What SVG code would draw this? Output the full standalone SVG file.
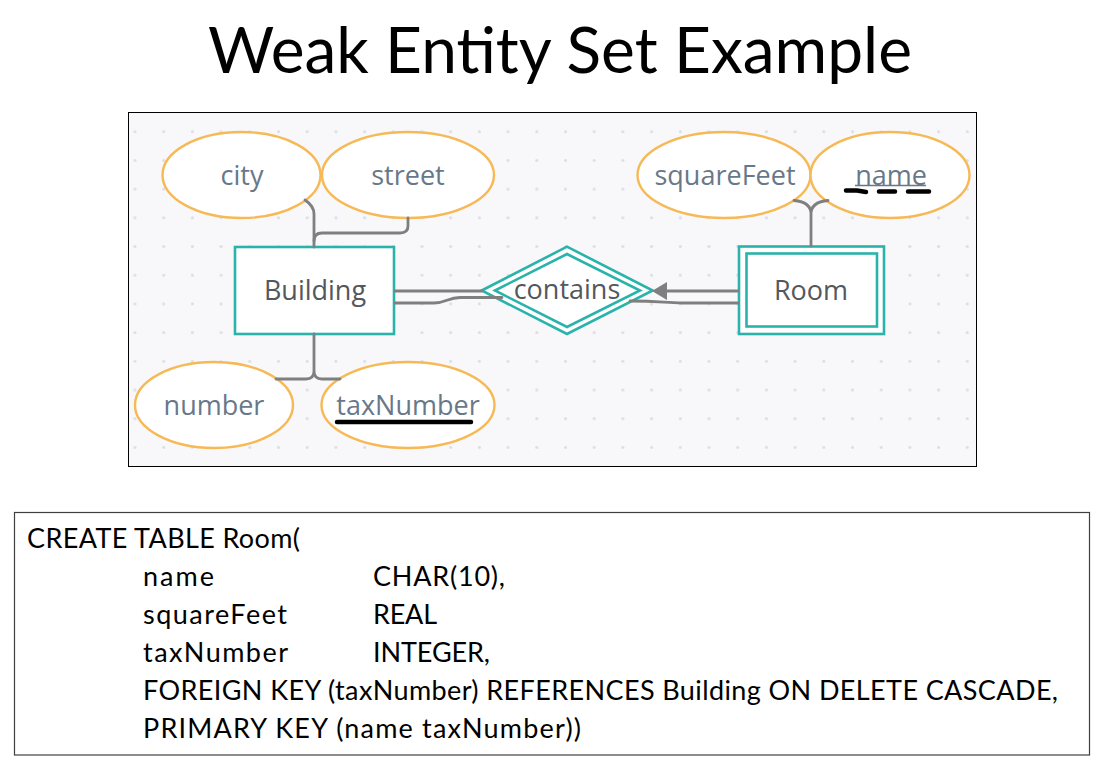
<svg xmlns="http://www.w3.org/2000/svg" width="1108" height="775" viewBox="0 0 1108 775">
<style>
.attr{fill:#ffffff;stroke:#f7b955;stroke-width:2.4}
.ent{fill:#ffffff;stroke:#2ab3ab;stroke-width:2.6}
.albl{font-family:"Open Sans","Noto Sans",sans-serif;font-size:27px;fill:#687889;text-anchor:middle}
.elbl{font-family:"Open Sans","Noto Sans",sans-serif;font-size:27px;fill:#53585c;text-anchor:middle}
.conn{fill:none;stroke:#7f7f7f;stroke-width:2.8;stroke-linecap:round}
.sql{font-family:Lato,"Liberation Sans",sans-serif;font-size:27px;fill:#000000}
</style>
<defs>
<pattern id="dots" patternUnits="userSpaceOnUse" x="120.65" y="117.35" width="28.7" height="28.7">
<circle cx="14.35" cy="14.35" r="1.5" fill="#dadde3"/>
</pattern>
</defs>
<rect width="1108" height="775" fill="#ffffff"/>
<text x="208" y="73" font-family="Lato,'Liberation Sans',sans-serif" font-size="64" fill="#000000" textLength="704">Weak Entity Set Example</text>
<g id="panel">
<rect x="128.5" y="112.5" width="848" height="354" fill="#f8f8fb" stroke="#000000" stroke-width="1"/>
<rect x="129" y="113" width="847" height="353" fill="url(#dots)"/>
</g>
<g id="city"><ellipse class="attr" cx="241.5" cy="175" rx="79" ry="43"/><text class="albl" x="242" y="185">city</text></g>
<g id="street"><ellipse class="attr" cx="408" cy="175" rx="86" ry="43"/><text class="albl" x="408" y="185">street</text></g>
<g id="number"><ellipse class="attr" cx="214" cy="405" rx="79" ry="43"/><text class="albl" x="214" y="415">number</text></g>
<g id="taxNumber"><ellipse class="attr" cx="408" cy="405" rx="86.5" ry="43"/><text class="albl" x="408" y="415">taxNumber</text>
<path d="M337,422 L471,422" stroke="#000000" stroke-width="4.5" stroke-linecap="round"/></g>
<g id="squareFeet"><ellipse class="attr" cx="724" cy="175" rx="86.5" ry="43"/><text class="albl" x="725" y="185">squareFeet</text></g>
<g id="name"><ellipse class="attr" cx="890" cy="175" rx="79.5" ry="43"/><text class="albl" x="891" y="185">name</text>
<path d="M855,185.5 L926,185.5" stroke="#687889" stroke-width="1.3"/>
<path d="M846,190.5 L857,190.5 L866,192 M879,191.5 L895,191.5 M908,191.5 L929,191.5" fill="none" stroke="#000000" stroke-width="4.5" stroke-linecap="round"/></g>
<g id="Building"><rect class="ent" x="235" y="247" width="159" height="87"/><text class="elbl" x="315" y="300">Building</text></g>
<g id="contains"><polygon class="ent" points="481.7,290.5 567,246.7 652.7,290.5 567,334"/><polygon class="ent" points="495,290.5 567,254 640,290.5 567,327"/><text class="elbl" x="567" y="299">contains</text></g>
<g id="Room"><rect class="ent" x="739" y="246.5" width="145" height="87.5"/><rect class="ent" x="746.5" y="253.5" width="130.5" height="73"/><text class="elbl" x="811" y="300">Room</text></g>
<g id="connectors">
<path class="conn" d="M305,200 Q314,206 314,214 L314,247"/>
<path class="conn" d="M408,218 L408,226 Q408,233 400,233 L322,233 Q314,233 314,241"/>
<path class="conn" d="M314,334 L314,371 Q314,379 306,379 L276,379 M314,371 Q314,379 322,379 L340,379"/>
<path class="conn" d="M811,246 L811,214 Q811,202 794,200.5 M811,214 Q811,202 828,200.5"/>
<path class="conn" d="M395,291 L482,291"/>
<path class="conn" d="M395,303 L434,303 C446,303 448,297.5 460,297.5 L502,297.5"/>
<path class="conn" d="M738,291 L664,291"/>
<polygon points="652,291 667,282 667,300" fill="#7f7f7f"/>
<path class="conn" d="M738,303 L682,303 C665,303 660,301 630,301"/>
</g>
<g id="sqlbox">
<rect x="14.5" y="512.5" width="1075" height="242.5" fill="#ffffff" stroke="#404040" stroke-width="1.2"/>
<text class="sql" x="27" y="548" textLength="273">CREATE TABLE Room(</text>
<text class="sql" x="143" y="586" textLength="71">name</text>
<text class="sql" x="373" y="586" textLength="132">CHAR(10),</text>
<text class="sql" x="143" y="624" textLength="144">squareFeet</text>
<text class="sql" x="373" y="624" textLength="64">REAL</text>
<text class="sql" x="143" y="662" textLength="145">taxNumber</text>
<text class="sql" x="373" y="662" textLength="117">INTEGER,</text>
<text class="sql" x="143" y="700" textLength="915">FOREIGN KEY (taxNumber) REFERENCES Building ON DELETE CASCADE,</text>
<text class="sql" x="143" y="738" textLength="438">PRIMARY KEY (name taxNumber))</text>
</g>
</svg>
